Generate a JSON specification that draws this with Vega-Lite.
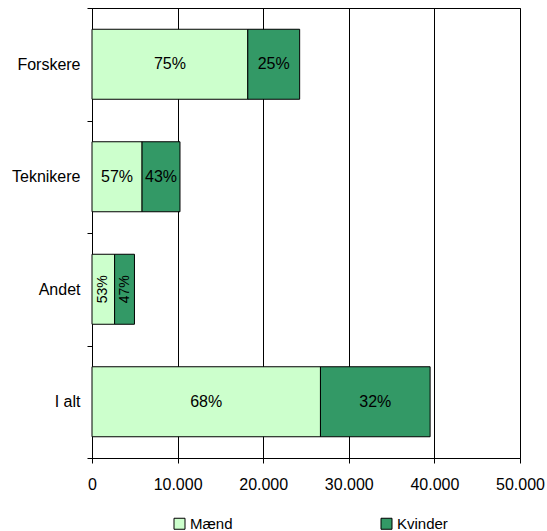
{
  "$schema": "https://vega.github.io/schema/vega-lite/v6.json",
  "width": 428,
  "height": 450,
  "autosize": {"type": "none"},
  "padding": {"left": 92, "top": 8, "right": 27, "bottom": 73},
  "background": "white",
  "config": {
    "font": "Liberation Sans",
    "view": {"stroke": "black", "strokeWidth": 1},
    "axis": {"labelFont": "Liberation Sans", "labelFontSize": 16, "labelColor": "black", "domainColor": "black", "tickColor": "black"},
    "legend": {"labelFont": "Liberation Sans", "labelFontSize": 15, "labelColor": "black"}
  },
  "data": {
    "values": [
      {"cat": "Forskere", "sex": "Mænd", "value": 18200, "pct": 0.75},
      {"cat": "Forskere", "sex": "Kvinder", "value": 6060, "pct": 0.25},
      {"cat": "Teknikere", "sex": "Mænd", "value": 5850, "pct": 0.57},
      {"cat": "Teknikere", "sex": "Kvinder", "value": 4430, "pct": 0.43},
      {"cat": "Andet", "sex": "Mænd", "value": 2640, "pct": 0.53},
      {"cat": "Andet", "sex": "Kvinder", "value": 2320, "pct": 0.47},
      {"cat": "I alt", "sex": "Mænd", "value": 26690, "pct": 0.68},
      {"cat": "I alt", "sex": "Kvinder", "value": 12810, "pct": 0.32}
    ]
  },
  "transform": [
    {"stack": "value", "groupby": ["cat"], "sort": [{"field": "sex", "order": "descending"}], "as": ["x0", "x1"]}
  ],
  "encoding": {
    "y": {
      "field": "cat", "type": "nominal",
      "sort": ["Forskere", "Teknikere", "Andet", "I alt"],
      "scale": {"paddingInner": 0, "paddingOuter": 0},
      "axis": {"title": null, "tickBand": "extent", "tickSize": 5, "labelPadding": 7, "grid": false, "domainColor": "black"}
    }
  },
  "layer": [
    {
      "mark": {"type": "bar", "size": 70, "stroke": "black", "strokeWidth": 1},
      "encoding": {
        "x": {
          "field": "x0", "type": "quantitative",
          "scale": {"domain": [0, 50000], "nice": false},
          "axis": {"title": null, "values": [0, 10000, 20000, 30000, 40000, 50000], "grid": true, "gridColor": "black", "gridOpacity": 1, "tickSize": 5, "labelPadding": 13, "labelFlush": false, "labelOverlap": false, "labelExpr": "replace(format(datum.value, ','), ',', '.')"}
        },
        "x2": {"field": "x1"},
        "color": {
          "field": "sex", "type": "nominal",
          "scale": {"domain": ["Mænd", "Kvinder"], "range": ["#CCFFCC", "#339966"]},
          "legend": {"title": null, "orient": "none", "legendX": 80, "legendY": 508, "direction": "horizontal", "columns": 2, "columnPadding": 146, "symbolType": "square", "symbolSize": 121, "symbolStrokeColor": "black", "symbolStrokeWidth": 1, "symbolOpacity": 1, "labelOffset": 3}
        }
      }
    },
    {
      "transform": [
        {"filter": "datum.cat !== 'Andet'"},
        {"fold": ["x0", "x1"], "as": ["k", "v"]},
        {"aggregate": [{"op": "mean", "field": "v", "as": "mid"}], "groupby": ["cat", "sex", "pct"]}
      ],
      "mark": {"type": "text", "fontSize": 16, "color": "black", "font": "Liberation Sans"},
      "encoding": {
        "x": {"field": "mid", "type": "quantitative"},
        "text": {"field": "pct", "type": "quantitative", "format": ".0%"}
      }
    },
    {
      "transform": [
        {"filter": "datum.cat === 'Andet'"},
        {"fold": ["x0", "x1"], "as": ["k", "v"]},
        {"aggregate": [{"op": "mean", "field": "v", "as": "mid"}], "groupby": ["cat", "sex", "pct"]}
      ],
      "mark": {"type": "text", "fontSize": 14, "color": "black", "angle": 270, "font": "Liberation Sans"},
      "encoding": {
        "x": {"field": "mid", "type": "quantitative"},
        "text": {"field": "pct", "type": "quantitative", "format": ".0%"}
      }
    }
  ]
}
